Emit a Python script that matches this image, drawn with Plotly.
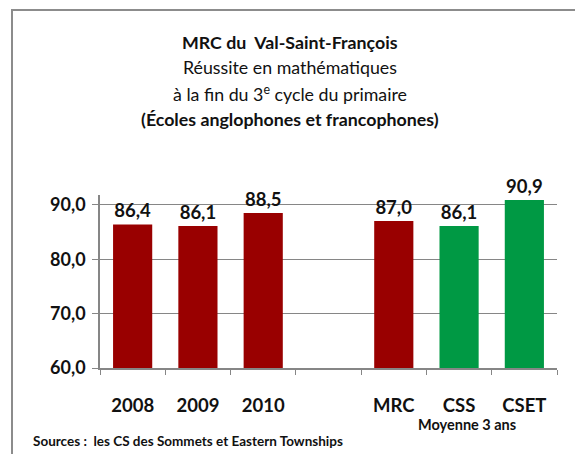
import plotly.graph_objects as go

categories = ["2008", "2009", "2010", " ", "MRC", "CSS", "CSET"]
values = [86.4, 86.1, 88.5, None, 87.0, 86.1, 90.9]
bar_colors = ["#990000", "#990000", "#990000", "#990000", "#990000", "#009944", "#009944"]
y_ticks = [60, 70, 80, 90]
y_tick_labels = ["60,0", "70,0", "80,0", "90,0"]

FONT = "Lato, Calibri, sans-serif"
labels = ["" if v is None else f"{v:.1f}".replace(".", ",") for v in values]

# screen plot area (px): x 100..557, y 195..368; page body has 8px margin
PX0, PX1, PY0, PY1 = 100, 557, 195, 368
def px(x):
    return (x - PX0) / (PX1 - PX0)
def py(y):
    return (PY1 - y) / (PY1 - PY0)

fig = go.Figure()
fig.add_trace(go.Bar(
    x=categories, y=values, marker=dict(color=bar_colors, line=dict(width=0)),
    width=0.6, text=labels, textposition="outside", cliponaxis=False,
    texttemplate="<b>%{text}</b>",
    textfont=dict(family=FONT, size=18.5, color="#111111"),
    showlegend=False, hoverinfo="skip",
))

W, H = 575, 446
fig.update_layout(
    width=W, height=H,
    margin=dict(l=PX0 - 8, r=W - (PX1 - 8), t=PY0 - 8, b=H - (PY1 - 8)),
    paper_bgcolor="white", plot_bgcolor="white",
    font=dict(family=FONT, color="#111111"),
)

fig.update_xaxes(
    type="category", categoryorder="array", categoryarray=categories,
    tickson="boundaries", ticks="outside", ticklen=5, tickcolor="#868686",
    showline=True, linecolor="#868686", linewidth=1.5,
    tickfont=dict(family=FONT, size=18.5, color="#111111"),
    tickvals=categories,
    ticktext=["<b>" + c + "</b>" for c in categories],
    ticklabelstandoff=20,
    showgrid=False, range=[-0.5, 6.5],
)
fig.update_yaxes(
    range=[60, 91.8], tickvals=y_ticks,
    ticktext=["<b>" + t + "</b>" for t in y_tick_labels],
    ticks="outside", ticklen=6, tickcolor="#868686",
    showline=True, linecolor="#868686", linewidth=1.5,
    showgrid=True, gridcolor="#868686", gridwidth=1.2,
    tickfont=dict(family=FONT, size=18, color="#111111"),
    ticklabelstandoff=3,
    zeroline=False,
)

# border of the chart area
fig.add_shape(type="rect", xref="paper", yref="paper",
              x0=px(12), x1=px(640), y0=py(520), y1=py(10),
              line=dict(color="#8c8c8c", width=2), fillcolor="rgba(0,0,0,0)", layer="below")

title_lines = [
    ("<b>MRC du  Val-Saint-François</b>", 42),
    ("Réussite en mathématiques", 67),
    ("à la fin du 3<sup>e</sup> cycle du primaire", 93),
    ("<b>(Écoles anglophones et francophones)</b>", 119),
]
for txt, y in title_lines:
    fig.add_annotation(text=txt, xref="paper", yref="paper",
                       x=px(290), y=py(y),
                       showarrow=False, xanchor="center", yanchor="middle",
                       font=dict(family=FONT, size=17.8, color="#111111"))

fig.add_annotation(text="<b>Moyenne 3 ans</b>", xref="paper", yref="paper",
                   x=px(467), y=py(424),
                   showarrow=False, xanchor="center", yanchor="middle",
                   font=dict(family=FONT, size=14.5, color="#111111"))
fig.add_annotation(text="<b>Sources :  les CS des Sommets et Eastern Townships</b>",
                   xref="paper", yref="paper",
                   x=px(31), y=py(441),
                   showarrow=False, xanchor="left", yanchor="middle",
                   font=dict(family=FONT, size=13.5, color="#111111"))

fig.write_html("out.html")
